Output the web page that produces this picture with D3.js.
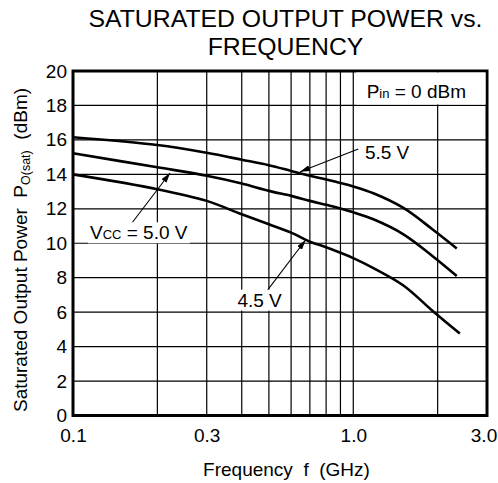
<!DOCTYPE html>
<html>
<head>
<meta charset="utf-8">
<script src="https://cdn.jsdelivr.net/npm/d3@7"></script>
<style>
  html, body { margin: 0; padding: 0; background: #fff; }
  svg { display: block; font-family: "Liberation Sans", Arial, Helvetica, sans-serif; }
</style>
</head>
<body>
<svg id="chart" width="498" height="483"></svg>
<script>
// Frequency (GHz) sample points for each supply voltage curve
const freq55 = [0.1, 0.2, 0.3, 0.4, 0.5, 0.6, 0.7, 0.8, 0.9, 1.0, 1.18, 1.51, 1.92, 2.34];
const pout55 = [16.15, 15.7, 15.25, 14.85, 14.53, 14.2, 13.92, 13.7, 13.5, 13.3, 12.9, 12.05, 10.8, 9.7];

const freq50 = [0.1, 0.2, 0.3, 0.4, 0.5, 0.6, 0.7, 0.8, 0.9, 1.0, 1.18, 1.51, 1.92, 2.34];
const pout50 = [15.22, 14.41, 13.92, 13.47, 13.04, 12.75, 12.46, 12.23, 12.02, 11.8, 11.39, 10.52, 9.25, 8.1];

const freq45 = [0.1, 0.2, 0.3, 0.4, 0.5, 0.6, 0.7, 0.8, 0.9, 1.0, 1.18, 1.51, 1.92, 2.40];
const pout45 = [14.0, 13.14, 12.46, 11.68, 11.1, 10.62, 10.09, 9.77, 9.45, 9.14, 8.56, 7.55, 6.07, 4.76];

// Axis ticks and grid
const xTickLabels = [0.1, 0.3, 1.0, 3.0];
const xGrid = [0.2, 0.3, 0.4, 0.5, 0.6, 0.7, 0.8, 0.9, 1.0, 2.0];
const yTicks = [0, 2, 4, 6, 8, 10, 12, 14, 16, 18, 20];

// Curve annotations: label text, label anchor, arrow tail and arrow tip (data units)
const annoLabels = ["5.5 V", "5.0 V", "4.5 V"];
const annoLabelPos = [[1.10, 14.87], [0.115, 10.23], [0.386, 6.32]];
const annoTail = [[1.042, 15.47], [0.162, 11.16], [0.493, 7.25]];
const annoTip = [[0.646, 14.15], [0.222, 14.08], [0.676, 10.19]];

const svg = d3.select("#chart");
const plotL = 73, plotR = 487, plotT = 71, plotB = 415.5;
const FONT = 19;

const x = d3.scaleLog().domain([0.1, 3.0]).range([plotL, plotR]);
const y = d3.scaleLinear().domain([0, 20]).range([plotB, plotT]);

// Title
svg.append("text").attr("x", 285.5).attr("y", 26.5).attr("text-anchor", "middle")
  .attr("font-size", 24.8).text("SATURATED OUTPUT POWER vs.");
svg.append("text").attr("x", 285.5).attr("y", 55).attr("text-anchor", "middle")
  .attr("font-size", 24.8).text("FREQUENCY");

// Grid
const grid = svg.append("g").attr("stroke", "#000").attr("stroke-width", 1.2);
grid.selectAll("line.h").data(yTicks.slice(1, -1)).join("line").attr("class", "h")
  .attr("x1", plotL).attr("x2", plotR)
  .attr("y1", d => y(d)).attr("y2", d => y(d));
grid.selectAll("line.v").data(xGrid).join("line").attr("class", "v")
  .attr("x1", d => x(d)).attr("x2", d => x(d))
  .attr("y1", plotT).attr("y2", plotB);

// Axes
const yAxis = svg.append("g").attr("transform", `translate(${plotL},0)`)
  .call(d3.axisLeft(y).tickValues(yTicks).tickSize(0).tickPadding(6).tickFormat(d3.format("d")));
const xAxis = svg.append("g").attr("transform", `translate(0,${plotB})`)
  .call(d3.axisBottom(x).tickValues(xTickLabels).tickSize(0).tickPadding(13).tickFormat(d3.format(".1f")));
[yAxis, xAxis].forEach(g => {
  g.select(".domain").remove();
  g.selectAll("text").attr("font-size", FONT).attr("fill", "#000")
    .attr("font-family", "Liberation Sans, Arial, Helvetica, sans-serif");
});
// keep the last frequency label inside the page
xAxis.selectAll(".tick text").filter(d => d === 3.0).attr("dx", -3.5);

// Curves
const line = d3.line().x(d => x(d[0])).y(d => y(d[1])).curve(d3.curveCatmullRom.alpha(0.5));
[[freq55, pout55], [freq50, pout50], [freq45, pout45]].forEach(([f, p]) => {
  svg.append("path").datum(f.map((v, i) => [v, p[i]]))
    .attr("d", line).attr("fill", "none").attr("stroke", "#000").attr("stroke-width", 2.6);
});

// Frame
svg.append("rect").attr("x", plotL).attr("y", plotT)
  .attr("width", plotR - plotL).attr("height", plotB - plotT)
  .attr("fill", "none").attr("stroke", "#000").attr("stroke-width", 3);

// Label with white backing box
function boxedLabel(g, xPos, yPos, build) {
  const t = g.append("text").attr("x", xPos).attr("y", yPos).attr("font-size", FONT);
  build(t);
  const b = t.node().getBBox();
  g.insert("rect", "text").attr("x", b.x - 2).attr("y", b.y).attr("width", b.width + 4)
    .attr("height", b.height).attr("fill", "#fff");
  return t;
}

// Input power note in the upper right corner
const pinG = svg.append("g");
pinG.append("rect").attr("x", x(1.0) + 3).attr("y", plotT + 1.5)
  .attr("width", plotR - x(1.0) - 4.5).attr("height", y(18) - plotT - 2.5).attr("fill", "#fff");
const pinT = pinG.append("text").attr("x", x(1.116)).attr("y", y(18.41)).attr("font-size", FONT);
pinT.append("tspan").text("P");
pinT.append("tspan").attr("font-size", 13).text("in");
pinT.append("tspan").text(" = 0 dBm");

// Arrows
svg.append("defs").append("marker").attr("id", "ah")
  .attr("viewBox", "0 0 10 6").attr("refX", 10).attr("refY", 3)
  .attr("markerWidth", 10).attr("markerHeight", 6).attr("markerUnits", "userSpaceOnUse")
  .attr("orient", "auto")
  .append("path").attr("d", "M0,0 L10,3 L0,6 Z").attr("fill", "#000");

annoLabels.forEach((lab, i) => {
  svg.append("line")
    .attr("x1", x(annoTail[i][0])).attr("y1", y(annoTail[i][1]))
    .attr("x2", x(annoTip[i][0])).attr("y2", y(annoTip[i][1]))
    .attr("stroke", "#000").attr("stroke-width", 1.1).attr("marker-end", "url(#ah)");
  const g = svg.append("g");
  boxedLabel(g, x(annoLabelPos[i][0]), y(annoLabelPos[i][1]), t => {
    if (i === 1) {
      t.append("tspan").text("V");
      t.append("tspan").attr("font-size", 13).text("CC");
      t.append("tspan").text(" = " + lab);
    } else {
      t.text(lab);
    }
  });
});

// Axis titles
svg.append("text").attr("x", 286.5).attr("y", 476).attr("text-anchor", "middle")
  .attr("font-size", FONT).style("white-space", "pre").text("Frequency  f  (GHz)");

const yt = svg.append("text").attr("transform", "translate(26.5,250) rotate(-90)")
  .attr("text-anchor", "middle").attr("font-size", FONT).style("white-space", "pre");
yt.append("tspan").text("Saturated Output Power  P");
yt.append("tspan").attr("font-size", 12.5).attr("dy", 3).text("O(sat)");
yt.append("tspan").attr("dy", -3).text("  (dBm)");
</script>
</body>
</html>
